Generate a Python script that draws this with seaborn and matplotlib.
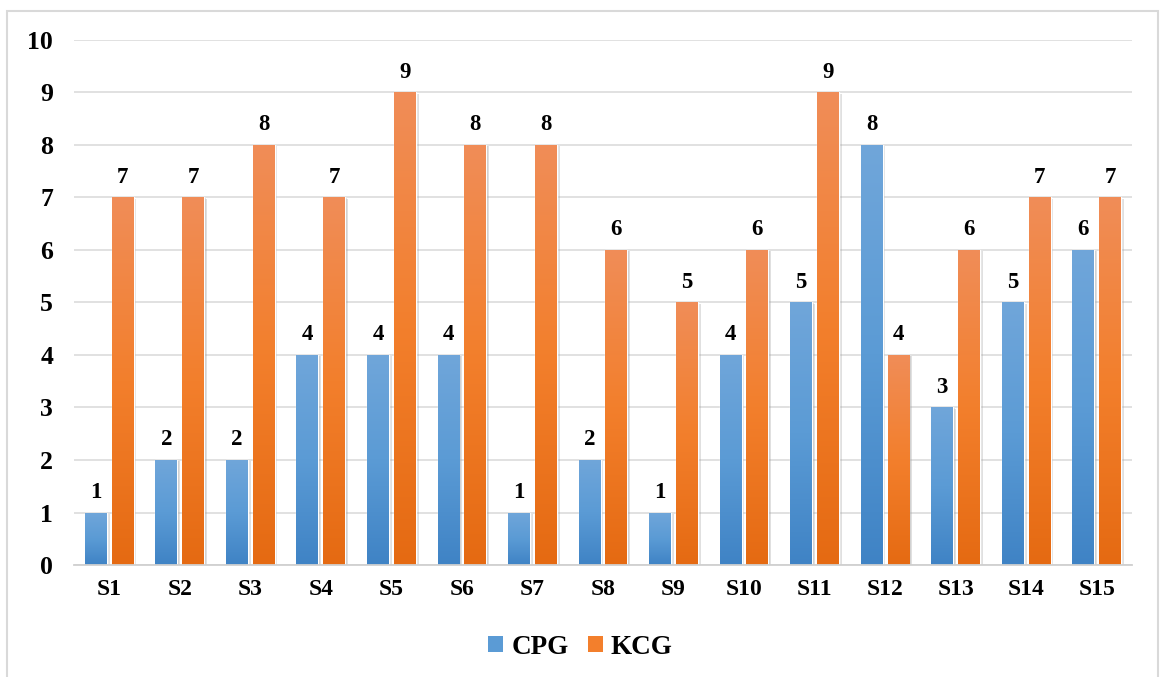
import numpy as np
import pandas as pd
import seaborn as sns
import matplotlib.pyplot as plt
import matplotlib.patheffects as pe
from matplotlib.patches import Patch, Rectangle
from matplotlib.colors import LinearSegmentedColormap

# # # # # Data # # # # #
categories = ['S1', 'S2', 'S3', 'S4', 'S5', 'S6', 'S7', 'S8', 'S9', 'S10',
              'S11', 'S12', 'S13', 'S14', 'S15']
cpg = [1, 2, 2, 4, 4, 4, 1, 2, 1, 4, 5, 8, 3, 5, 6]
kcg = [7, 7, 8, 7, 9, 8, 8, 6, 5, 6, 9, 4, 6, 7, 7]
series = ['CPG', 'KCG']

df = pd.DataFrame({
    'Sample': categories * 2,
    'Value': cpg + kcg,
    'Group': ['CPG'] * len(cpg) + ['KCG'] * len(kcg),
})

# colours: mid tone, top (light) and bottom (dark) of the gradient
mid = {'CPG': '#5B9BD5', 'KCG': '#F37F2C'}
grad = {'CPG': ('#70A6DA', '#3F83C5'), 'KCG': ('#F08D58', '#E56A12')}

sns.set_theme(style='white')
plt.rcParams['font.family'] = ['Liberation Serif', 'DejaVu Serif']
plt.rcParams['font.weight'] = 'bold'

fig = plt.figure(figsize=(11.61, 6.77), dpi=100)
ax = fig.add_axes([0.0637, 0.1654, 0.9113, 0.7756])

sns.barplot(data=df, x='Sample', y='Value', hue='Group', palette=[mid[s] for s in series],
            width=0.76, gap=0.18, legend=False, ax=ax)

ax.set_ylim(0, 10)
ax.set_yticks(range(0, 11))
ax.set_xlim(-0.5, len(categories) - 0.5)
ax.set_xlabel('')
ax.set_ylabel('')
ax.grid(axis='y', color='#D9D9D9', linewidth=1.1)
ax.set_axisbelow(True)
for side in ['left', 'right', 'top']:
    ax.spines[side].set_visible(False)
ax.spines['bottom'].set_color('#D0D0D0')
ax.spines['bottom'].set_linewidth(1.3)
ax.tick_params(axis='y', length=0, pad=15, labelsize=18.5)
ax.tick_params(axis='x', length=0, pad=10, labelsize=17)
for t in ax.get_xticklabels() + ax.get_yticklabels():
    t.set_fontweight('bold')
    t.set_color('black')

# gradient fill + soft shadow on every bar
for name, cont in zip(series, ax.containers):
    cmap = LinearSegmentedColormap.from_list(name, [grad[name][1], mid[name], grad[name][0]])
    for bar in cont.patches:
        bar.set_path_effects([pe.SimplePatchShadow(offset=(2, -1), shadow_rgbFace='#9A9A9A', alpha=0.3),
                              pe.SimplePatchShadow(offset=(1, -0.5), shadow_rgbFace='#8A8A8A', alpha=0.3),
                              pe.Normal()])
        x0, y0 = bar.get_x(), bar.get_y()
        w, h = bar.get_width(), bar.get_height()
        img = ax.imshow(np.linspace(0, 1, 256).reshape(-1, 1), cmap=cmap, origin='lower',
                        extent=[x0, x0 + w, y0, y0 + h], aspect='auto', zorder=bar.get_zorder() + 0.1)
        img.set_clip_path(bar)
    ax.bar_label(cont, padding=7, fontsize=16.5, fontweight='bold', color='black')

ax.set_xlim(-0.5, len(categories) - 0.5)
ax.set_ylim(0, 10)

# legend
handles = [Patch(facecolor=mid[s], edgecolor='none', label=s) for s in series]
fig.legend(handles=handles, loc='center', bbox_to_anchor=(0.5, 0.044), ncol=2, frameon=False,
           prop={'family': 'Liberation Serif', 'weight': 'bold', 'size': 19.5}, labelcolor='black',
           handlelength=0.55, handleheight=0.55, handletextpad=0.3, columnspacing=0.7)

# outer chart border
fig.patches.append(Rectangle((7 / 1161, -0.02), 1151 / 1161, 1 - 11 / 677 + 0.02,
                             transform=fig.transFigure, fill=False, edgecolor='#D9D9D9',
                             linewidth=1.5, zorder=-1))

fig.savefig('out.png', dpi=100)
